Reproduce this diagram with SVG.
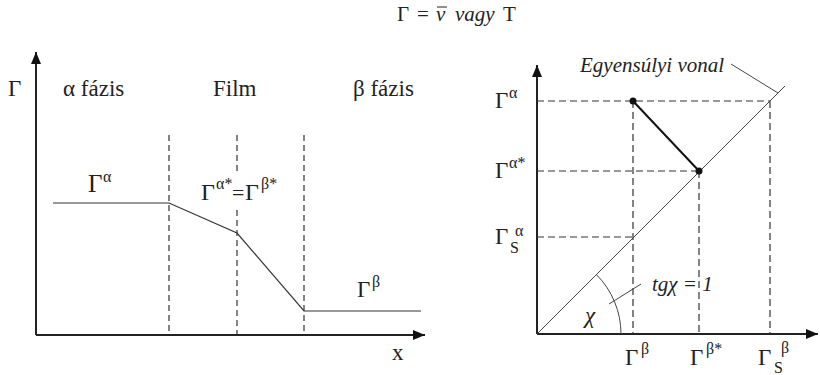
<svg xmlns="http://www.w3.org/2000/svg" width="820" height="375" viewBox="0 0 820 375" font-family="Liberation Serif, serif">
<style>
text{fill:#222}
.h{font-size:23px}
.g{font-size:23px}
.s{font-size:16px}
.axis{stroke:#222;stroke-width:2;fill:none}
.dash{stroke:#333;stroke-width:1.2;stroke-dasharray:6 4;fill:none}
.dash2{stroke:#333;stroke-width:1.2;stroke-dasharray:7 4;fill:none}
.curve{stroke:#333;stroke-width:1.2;fill:none}
.thin{stroke:#444;stroke-width:1;fill:none}
.thick{stroke:#111;stroke-width:2;fill:none}
</style>
<defs>
<marker id="arr" viewBox="0 0 12 10" refX="12" refY="5" markerWidth="12" markerHeight="10" markerUnits="userSpaceOnUse" orient="auto"><path d="M0,0 L12,5 L0,10 z" fill="#111"/></marker>
</defs>

<g id="title" font-family="Liberation Serif, serif">
<text x="397" y="21" font-size="21">Γ</text>
<text x="417" y="21" font-size="21">=</text>
<text x="436" y="21" font-size="21" font-style="italic">v</text>
<line x1="437" y1="7" x2="447" y2="7" stroke="#222" stroke-width="1"/>
<text x="455" y="21" font-size="21" font-style="italic">vagy</text>
<text x="503" y="21" font-size="21">T</text>
</g>

<g id="left-chart" font-family="Liberation Serif, serif">
<g id="left-axes">
<line class="axis" x1="36" y1="335" x2="36" y2="52" marker-end="url(#arr)"/>
<line class="axis" x1="36" y1="335" x2="425" y2="335" marker-end="url(#arr)"/>
<text x="8" y="96" class="g">Γ</text>
<text x="392" y="360" class="h">x</text>
</g>
<g id="left-headers">
<text x="63" y="96" class="h">α fázis</text>
<text x="213" y="96" class="h">Film</text>
<text x="353" y="96" class="h">β fázis</text>
</g>
<g id="left-connectors">
<line class="dash" x1="169" y1="135" x2="169" y2="335"/>
<line class="dash" x1="237" y1="135" x2="237" y2="175"/>
<line class="dash" x1="237" y1="210" x2="237" y2="335"/>
<line class="dash" x1="304" y1="135" x2="304" y2="335"/>
<polyline class="curve" points="53,203 169,203 237,233 304,311 421,311"/>
</g>
<g id="label-gamma-alpha">
<text x="88" y="192" font-size="25">Γ</text>
<text x="103" y="182" class="s">α</text>
</g>
<g id="label-interface">
<text x="201" y="200" font-size="24">Γ</text>
<text x="216" y="189" class="s">α*</text>
<text x="232" y="200" font-size="22">=</text>
<text x="245" y="200" font-size="24">Γ</text>
<text x="261" y="189" class="s">β*</text>
</g>
<g id="label-gamma-beta">
<text x="357" y="297" class="g">Γ</text>
<text x="372" y="287" class="s">β</text>
</g>
</g>

<g id="right-chart" font-family="Liberation Serif, serif">
<g id="right-axes">
<line class="axis" x1="537" y1="334" x2="537" y2="65" marker-end="url(#arr)"/>
<line class="axis" x1="537" y1="334" x2="818" y2="334" marker-end="url(#arr)"/>
</g>
<g id="right-connectors">
<line class="dash2" x1="537" y1="101" x2="770" y2="101"/>
<line class="dash2" x1="537" y1="171" x2="699" y2="171"/>
<line class="dash2" x1="537" y1="237" x2="633" y2="237"/>
<line class="dash2" x1="633" y1="101" x2="633" y2="334"/>
<line class="dash2" x1="699" y1="171" x2="699" y2="334"/>
<line class="dash2" x1="770" y1="101" x2="770" y2="334"/>
<line class="thin" x1="537" y1="334" x2="785" y2="86"/>
<line class="thin" x1="731" y1="64" x2="778" y2="93"/>
<path class="thin" d="M621,334 A84,84 0 0 0 596.4,274.6"/>
<line class="thin" x1="609" y1="304" x2="641" y2="284"/>
<line class="thick" x1="633" y1="101" x2="699" y2="171"/>
</g>
<g id="point-a"><circle cx="633" cy="101" r="3.5" fill="#111"/></g>
<g id="point-b"><circle cx="699" cy="171" r="3.5" fill="#111"/></g>
<g id="label-equilibrium">
<text x="580" y="72" font-style="italic" font-size="21">Egyensúlyi vonal</text>
</g>
<g id="label-tg">
<text x="652" y="291" font-style="italic" font-size="21">tgχ = 1</text>
</g>
<g id="label-chi">
<text x="585" y="323" font-style="italic" font-size="23">χ</text>
</g>
<g id="ylabels">
<text x="495" y="108" class="g">Γ</text>
<text x="509" y="98" class="s">α</text>
<text x="495" y="178" class="g">Γ</text>
<text x="509" y="168" class="s">α*</text>
<text x="495" y="244" class="g">Γ</text>
<text x="510" y="253" class="s">S</text>
<text x="515" y="236" class="s">α</text>
</g>
<g id="xlabels">
<text x="625" y="365" class="g">Γ</text>
<text x="641" y="354" class="s">β</text>
<text x="690" y="365" class="g">Γ</text>
<text x="706" y="354" class="s">β*</text>
<text x="758" y="365" class="g">Γ</text>
<text x="774" y="373" class="s">S</text>
<text x="781" y="353" class="s">β</text>
</g>
</g>
</svg>
